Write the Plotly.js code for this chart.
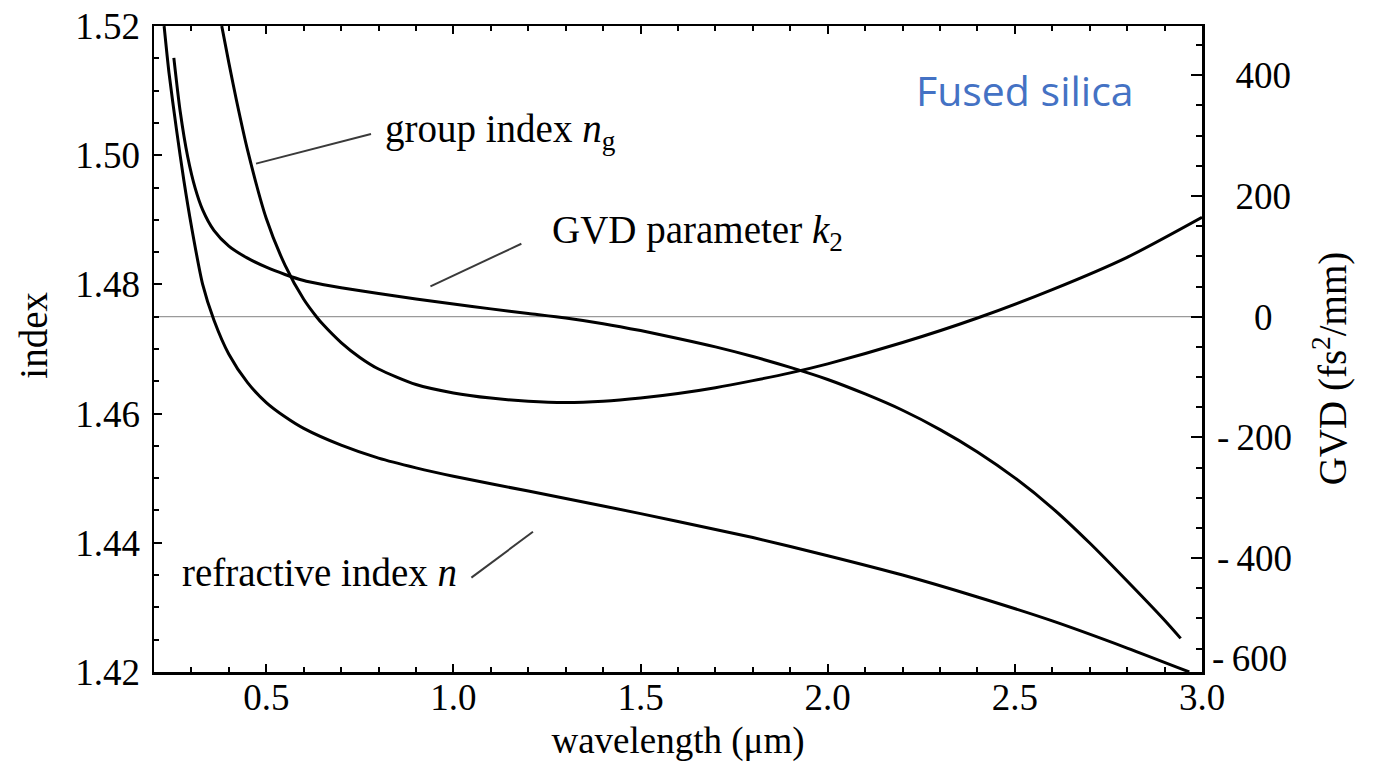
<!DOCTYPE html>
<html>
<head>
<meta charset="utf-8">
<script src="https://cdn.plot.ly/plotly-3.0.1.min.js"></script>
<style>html,body{margin:0;padding:0;background:#fff;}#chart{width:1380px;height:772px;}</style>
</head>
<body>
<div id="chart"></div>
<script>
// Wavelength in micrometres
const wavelengthN = [0.227, 0.24, 0.26, 0.28, 0.30, 0.33, 0.36, 0.40, 0.45, 0.50, 0.55, 0.60, 0.70, 0.80, 0.90, 1.0, 1.2, 1.4, 1.6, 1.8, 2.0, 2.2, 2.4, 2.6, 2.8, 2.966];
const refractiveIndex = [1.5200, 1.5128, 1.5040, 1.4960, 1.4890, 1.4800, 1.4745, 1.4692, 1.4648, 1.4617, 1.4595, 1.4577, 1.4551, 1.4531, 1.4516, 1.4503, 1.4480, 1.4457, 1.4433, 1.4408, 1.4380, 1.4350, 1.4316, 1.4279, 1.4237, 1.4200];

const wavelengthNg = [0.381, 0.40, 0.42, 0.45, 0.50, 0.55, 0.60, 0.634, 0.65, 0.70, 0.75, 0.80, 0.90, 1.0, 1.1, 1.2, 1.3, 1.4, 1.5, 1.6, 1.7, 1.8, 1.9, 2.0, 2.2, 2.4, 2.6, 2.8, 3.0];
const groupIndex = [1.5200, 1.5143, 1.5086, 1.5008, 1.4902, 1.4830, 1.4777, 1.4750, 1.4739, 1.4710, 1.4687, 1.4669, 1.4645, 1.4632, 1.4624, 1.4619, 1.4617, 1.4619, 1.4624, 1.4631, 1.4640, 1.4651, 1.4663, 1.4677, 1.4710, 1.4748, 1.4792, 1.4842, 1.4904];

const wavelengthGVD = [0.253, 0.27, 0.29, 0.31, 0.33, 0.36, 0.40, 0.45, 0.50, 0.55, 0.60, 0.65, 0.70, 0.80, 0.90, 1.0, 1.1, 1.2, 1.3, 1.4, 1.5, 1.6, 1.7, 1.8, 1.9, 2.0, 2.1, 2.2, 2.3, 2.4, 2.5, 2.6, 2.7, 2.8, 2.9, 2.943];
const gvd = [429, 340, 265, 213, 177, 143, 117, 97, 82, 70, 60, 53.5, 48, 38.5, 29.5, 21, 13, 5.5, -2, -11.5, -23, -36, -50, -66, -84, -104, -128, -155, -187, -224, -267, -317, -375, -438, -503, -533];

const xTickVals = [0.5, 1.0, 1.5, 2.0, 2.5, 3.0];
const xTickText = ["0.5", "1.0", "1.5", "2.0", "2.5", "3.0"];
const indexTickVals = [1.42, 1.44, 1.46, 1.48, 1.50, 1.52];
const indexTickText = ["1.42", "1.44", "1.46", "1.48", "1.50", "1.52"];
const gvdTickVals = [-400, -200, 0, 200, 400];
const gvdTickText = ["-\u2009400", "-\u2009200", "\u2007\u20070", "\u2007200", "\u2007400"];
const gvdBottomLabel = "-\u2009600";

const serif = "\"Liberation Serif\", \"Times New Roman\", serif";
const black = "#000";
const curve = {color: black, width: 3, shape: "spline", smoothing: 0.7};

const traces = [
  {x: wavelengthN, y: refractiveIndex, type: "scatter", mode: "lines", line: curve, yaxis: "y", name: "refractive index n", showlegend: false},
  {x: wavelengthNg, y: groupIndex, type: "scatter", mode: "lines", line: curve, yaxis: "y", name: "group index ng", showlegend: false},
  {x: wavelengthGVD, y: gvd, type: "scatter", mode: "lines", line: curve, yaxis: "y2", name: "GVD parameter k2", showlegend: false}
];

const layout = {
  width: 1380, height: 772,
  margin: {l: 154, r: 178, t: 26, b: 100, pad: 0},
  paper_bgcolor: "#fff", plot_bgcolor: "#fff",
  font: {family: serif, size: 37, color: black},
  showlegend: false,
  xaxis: {
    range: [0.2, 3.0], showgrid: false, zeroline: false,
    showline: true, linecolor: black, linewidth: 2.5, mirror: "ticks",
    ticks: "inside", ticklen: 8, tickwidth: 2, tickcolor: black,
    tickmode: "array", tickvals: xTickVals, ticktext: xTickText,
    ticklabelstandoff: -9,
    minor: {tickmode: "linear", tick0: 0.2, dtick: 0.1, ticks: "inside", ticklen: 5, tickwidth: 2, tickcolor: black, showgrid: false},
    tickfont: {family: serif, size: 37, color: black},
    title: {text: "wavelength (\u03bcm)", font: {family: serif, size: 37, color: black}, standoff: 10}
  },
  yaxis: {
    range: [1.41999, 1.52001], showgrid: false, zeroline: false,
    showline: true, linecolor: black, linewidth: 2.5, mirror: false,
    ticks: "inside", ticklen: 8, tickwidth: 2, tickcolor: black,
    tickmode: "array", tickvals: indexTickVals, ticktext: indexTickText,
    ticklabelstandoff: 4,
    minor: {tickmode: "linear", tick0: 1.42, dtick: 0.005, ticks: "inside", ticklen: 5, tickwidth: 2, tickcolor: black, showgrid: false},
    tickfont: {family: serif, size: 37, color: black},
    title: {text: "\u200b\u2002\u2009index", font: {family: serif, size: 39, color: black}, standoff: 16}
  },
  yaxis2: {
    overlaying: "y", side: "right",
    range: [-588.7, 481.7], showgrid: false, zeroline: false,
    showline: true, linecolor: black, linewidth: 2.5,
    ticks: "inside", ticklen: 11, tickwidth: 2, tickcolor: black,
    tickmode: "array", tickvals: gvdTickVals, ticktext: gvdTickText,
    ticklabelstandoff: 5,
    minor: {tickmode: "linear", tick0: 0, dtick: 50, ticks: "inside", ticklen: 6, tickwidth: 2, tickcolor: black, showgrid: false},
    tickfont: {family: serif, size: 37, color: black},
    title: {text: "GVD (fs<sup>2</sup>/mm)\u2003\u200b", font: {family: serif, size: 39, color: black}, standoff: 28}
  },
  shapes: [
    {type: "line", xref: "paper", yref: "y2", x0: 0, x1: 1, y0: 0, y1: 0, line: {color: "#9a9a9a", width: 1.3}, layer: "below"},
    {type: "line", xref: "x", yref: "y", x0: 0.4726, y0: 1.4987, x1: 0.7797, y1: 1.5033, line: {color: "#3a3a3a", width: 2}},
    {type: "line", xref: "x", yref: "y", x0: 0.9386, y0: 1.4797, x1: 1.1815, y1: 1.4863, line: {color: "#3a3a3a", width: 2}},
    {type: "line", xref: "x", yref: "y", x0: 1.0480, y0: 1.4346, x1: 1.2125, y1: 1.4417, line: {color: "#3a3a3a", width: 2}}
  ],
  annotations: [
    {text: "group index <i>n</i><sub>g</sub>", xref: "x", yref: "y", x: 0.812, y: 1.5037, xanchor: "left", yanchor: "middle", showarrow: false, font: {family: serif, size: 39, color: black}},
    {text: "GVD parameter <i>k</i><sub>2</sub>", xref: "x", yref: "y", x: 1.257, y: 1.4881, xanchor: "left", yanchor: "middle", showarrow: false, font: {family: serif, size: 39, color: black}},
    {text: "refractive index <i>n</i>", xref: "x", yref: "y", x: 0.269, y: 1.4354, xanchor: "left", yanchor: "middle", showarrow: false, font: {family: serif, size: 39, color: black}},
    {text: "Fused silica", xref: "paper", yref: "paper", x: 0.831, y: 0.901, xanchor: "center", yanchor: "middle", showarrow: false, font: {family: "\"Open Sans\", \"Noto Sans\", sans-serif", size: 41, color: "#4472C4"}},
    {text: gvdBottomLabel, xref: "paper", yref: "y2", x: 1, y: -567, xanchor: "left", yanchor: "middle", xshift: 8, showarrow: false, font: {family: serif, size: 37, color: black}}
  ]
};

Plotly.newPlot("chart", traces, layout, {staticPlot: true, displayModeBar: false});
</script>
</body>
</html>
